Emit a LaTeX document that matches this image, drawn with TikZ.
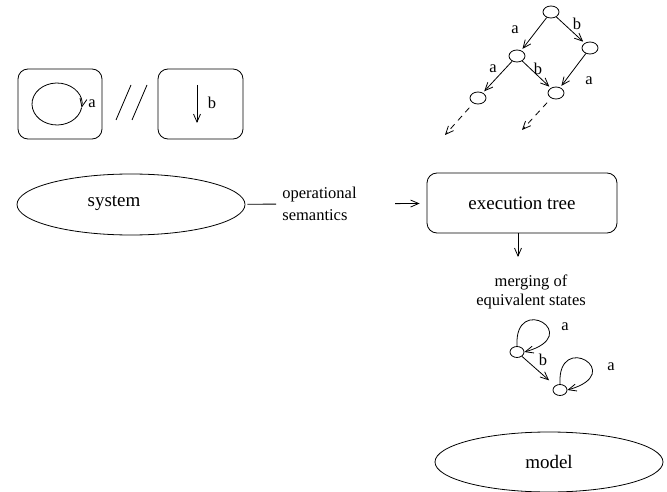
\documentclass[tikz,border=0pt]{standalone}
\usepackage{fontspec}
\setmainfont{Liberation Serif}
\usetikzlibrary{arrows.meta,shapes.geometric}
\begin{document}
\begin{tikzpicture}[x=1pt,y=-1pt,
  line width=0.8pt,
  >={Straight Barb[length=8pt,width=7pt]},
  big/.style={font=\fontsize{19}{22}\selectfont},
  small/.style={font=\fontsize{16.5}{20}\selectfont},
  lab/.style={small,inner sep=0pt},
  panel/.style={draw,rounded corners=10pt,minimum height=70pt,inner sep=0pt},
  oval/.style={draw,ellipse,minimum width=228pt,minimum height=61pt,inner sep=0pt},
  st/.style={draw,ellipse,minimum width=16pt,minimum height=12pt,inner sep=0pt},
  mst/.style={draw,ellipse,minimum width=14pt,minimum height=11pt,inner sep=0pt},
  dashedarrow/.style={->,dash pattern=on 6pt off 5pt,shorten <=6pt},
]
\useasboundingbox (0,0) rectangle (667,492);

% --- the two components, composed in parallel ---
\node[panel,minimum width=84pt] (boxA) at (60,104) {};
\draw[->] (57,104) ++(-10:25pt and 21pt)
  arc[start angle=350,end angle=-10,x radius=25pt,y radius=21pt];
\node[lab] (la) at (92,104) {a};

\draw (116,120) -- (131,85);
\draw (132,120) -- (147,85);

\node[panel,minimum width=85pt] (boxB) at (200.5,104) {};
\coordinate (bTop) at (197,85);
\coordinate (bBot) at (197,123);
\draw[->] (bTop) -- (bBot);
\node[lab] (lb) at (212,103) {b};

% --- system, semantics, execution tree ---
\node[oval] (sys) at (131,204.5) {};
\node[big] (systxt) at (114,203) {system};

\node[font=\fontsize{16.5}{22}\selectfont,align=left,anchor=west,inner sep=0pt]
  (ops) at (282,204) {operational\\semantics};

\node[draw,rounded corners=10pt,minimum width=190pt,minimum height=60pt,big]
  (exec) at (522,203) {execution tree};

\draw[shorten <=2pt,shorten >=6pt] (sys) -- (ops);
\draw[->,shorten <=38pt,shorten >=7pt] (ops) -- (exec);

% --- unfolded execution tree ---
\node[st] (t0) at (551,12) {};
\node[st] (t1) at (590,48) {};
\node[st] (t2) at (517,56) {};
\node[st] (t3) at (478,98) {};
\node[st] (t4) at (556,93) {};

\draw[->,shorten >=2pt] (t0) -- (t2);
\draw[->,shorten >=2pt] (t0) -- (t1);
\draw[->,shorten >=2pt] (t2) -- (t3);
\draw[->,shorten >=2pt] (t2) -- (t4);
\draw[->,shorten >=2pt] (t1) -- (t4);

\node[lab] (e02) at (515,30) {a};
\node[lab] (e01) at (577,24) {b};
\node[lab] (e23) at (493,69) {a};
\node[lab] (e24) at (538,69) {b};
\node[lab] (e14) at (589,81) {a};

\coordinate (d3) at (445,135);
\coordinate (d4) at (522,130);
\draw[dashedarrow] (t3) -- (d3);
\draw[dashedarrow] (t4) -- (d4);

% --- merging step ---
\coordinate (mtop) at (518,257);
\draw[->] (exec.south -| mtop) -- (mtop);
\node[font=\fontsize{16.5}{19}\selectfont,align=center,inner sep=0pt]
  (merge) at (531,292) {merging of\\equivalent states};

% --- resulting automaton ---
\node[mst] (s1) at (517,352) {};
\node[mst] (s2) at (560,390) {};
\draw[->] (s1.north) .. controls +(-3,-54) and +(61,-17) .. (s1.east);
\draw[->] (s2.north) .. controls +(-3,-54) and +(61,-17) .. (s2.east);
\draw[->,shorten >=8pt] (s1) -- (s2);
\node[lab] (sa1) at (565,327) {a};
\node[lab] (sb) at (543,360) {b};
\node[lab] (sa2) at (611,367) {a};

% --- model ---
\node[oval,minimum height=60pt,big] (model) at (549,462) {model};
\end{tikzpicture}
\end{document}
